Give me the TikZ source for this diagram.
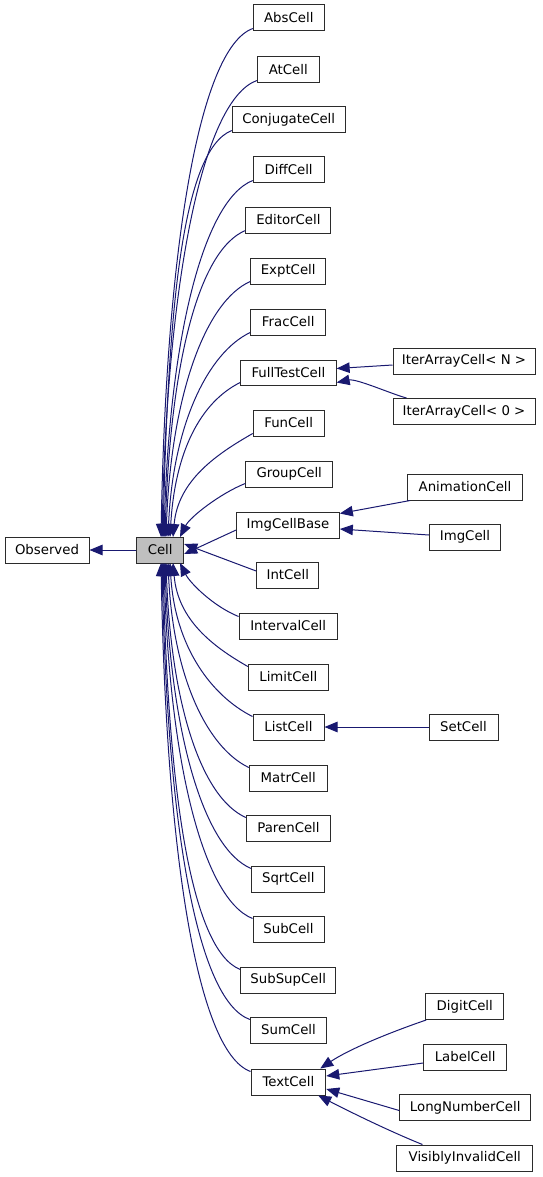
\documentclass[tikz,border=0pt]{standalone}
\usepackage{fontspec}
\setmainfont{DejaVu Sans}
\usetikzlibrary{arrows.meta}
\definecolor{edgeblue}{HTML}{191970}
\definecolor{boxline}{HTML}{2B2B2B}
\definecolor{cellgray}{HTML}{BFBFBF}
\tikzset{
  box/.style={draw=boxline, line width=1pt, fill=white, minimum height=26pt, inner sep=0pt, font=\fontsize{13.3}{15}\selectfont, text=black},
  edge/.style={draw=edgeblue, line width=1pt, -{Triangle[length=13pt,width=10.5pt]}},
}
\newcommand\upedge[4]{\draw[edge] ([yshift=3pt]#1.south west) .. controls +(#2,20) and +(5,-#4) .. (#3,537);}
\newcommand\downedge[4]{\draw[edge] ([yshift=-3pt]#1.north west) .. controls +(#2,-20) and +(5,#4) .. (#3,563);}
\begin{document}
\begin{tikzpicture}[x=1pt,y=-1pt]
\useasboundingbox (0,0) rectangle (543,1177);
% nodes
\node[box, minimum width=84pt] (observed) at (47,550) {Observed};
\node[box, minimum width=47pt, fill=cellgray] (cell) at (160.2,550) {Cell};
\node[box, minimum width=71pt] (abs) at (288.8,18) {AbsCell};
\node[box, minimum width=62pt] (at) at (288.3,70) {AtCell};
\node[box, minimum width=113pt] (conj) at (288.7,120) {ConjugateCell};
\node[box, minimum width=71pt] (diff) at (288.7,170) {DiffCell};
\node[box, minimum width=85pt] (editor) at (288.4,220) {EditorCell};
\node[box, minimum width=75pt] (expt) at (288.2,271) {ExptCell};
\node[box, minimum width=75pt] (frac) at (288.2,322) {FracCell};
\node[box, minimum width=95.5pt, minimum height=25pt] (fulltest) at (288.4,372.5) {FullTestCell};
\node[box, minimum width=71pt] (fun) at (288.7,423) {FunCell};
\node[box, minimum width=87pt] (group) at (289.2,474) {GroupCell};
\node[box, minimum width=102.7pt] (imgbase) at (288,525) {ImgCellBase};
\node[box, minimum width=62.3pt] (int) at (287.8,575) {IntCell};
\node[box, minimum width=98.3pt] (interval) at (288.2,626) {IntervalCell};
\node[box, minimum width=80pt] (limit) at (288.3,677) {LimitCell};
\node[box, minimum width=71pt] (list) at (288.5,727) {ListCell};
\node[box, minimum width=78pt] (matr) at (288.3,778) {MatrCell};
\node[box, minimum width=84.3pt] (paren) at (288.5,828) {ParenCell};
\node[box, minimum width=73.3pt] (sqrt) at (288.3,879) {SqrtCell};
\node[box, minimum width=71pt] (sub) at (288.5,929) {SubCell};
\node[box, minimum width=95pt] (subsup) at (288.2,980) {SubSupCell};
\node[box, minimum width=76.3pt] (sum) at (288.5,1030) {SumCell};
\node[box, minimum width=74.7pt] (text) at (288.4,1082) {TextCell};
\node[box, minimum width=142pt] (iterN) at (464,361) {IterArrayCell< N >};
\node[box, minimum width=142pt] (iter0) at (464,411.5) {IterArrayCell< 0 >};
\node[box, minimum width=114.7pt] (anim) at (465,487) {AnimationCell};
\node[box, minimum width=71.3pt] (img) at (465,537) {ImgCell};
\node[box, minimum width=69pt] (set) at (463.5,727) {SetCell};
\node[box, minimum width=78.3pt] (digit) at (464.8,1006.5) {DigitCell};
\node[box, minimum width=83pt] (label) at (465.2,1057) {LabelCell};
\node[box, minimum width=131pt] (longnum) at (465.2,1107.5) {LongNumberCell};
\node[box, minimum width=135.7pt] (visibly) at (464.8,1158) {VisiblyInvalidCell};
% edges to Cell
\draw[edge] (cell) -- (observed);
\upedge{abs}{-55}{161}{280}
\upedge{at}{-55}{162}{251}
\upedge{conj}{-50}{163}{224}
\upedge{diff}{-50}{164}{196}
\upedge{editor}{-48}{165}{169}
\upedge{expt}{-45}{166}{141}
\upedge{frac}{-42}{168}{113}
\upedge{fulltest}{-40}{170}{85}
\upedge{fun}{-35}{173}{57}
\draw[edge] ([yshift=4pt]group.south west) .. controls +(-25,10) and +(10,-20) .. (180,537);
\draw[edge] ([yshift=-5pt]imgbase.west) -- ([yshift=-4pt]cell.east);
\draw[edge] ([yshift=4pt]int.west) -- ([yshift=6pt]cell.east);
\draw[edge] ([yshift=-4pt]interval.north west) .. controls +(-25,-10) and +(10,20) .. (180,563);
\downedge{limit}{-35}{173}{57}
\downedge{list}{-40}{170}{85}
\downedge{matr}{-42}{168}{113}
\downedge{paren}{-45}{166}{140}
\downedge{sqrt}{-48}{165}{168}
\downedge{sub}{-50}{164}{196}
\downedge{subsup}{-50}{163}{224}
\downedge{sum}{-55}{162}{251}
\downedge{text}{-55}{161}{280}
% right column edges
\draw[edge] ([yshift=-4pt]iterN.west) -- ([yshift=4pt]fulltest.east);
\draw[edge] ([xshift=14pt]iter0.north west) .. controls +(-15,-4) and +(20,-4) .. ([yshift=-10pt]fulltest.east);
\draw[edge] ([xshift=3pt]anim.south west) -- ([yshift=-2pt]imgbase.north east);
\draw[edge] ([yshift=2pt]img.west) -- ([yshift=-4pt]imgbase.east);
\draw[edge] (set.west) -- (list.east);
\draw[edge] ([xshift=1pt]digit.south west) .. controls +(-35,12) and +(30,-20) .. ([xshift=-6pt]text.north east);
\draw[edge] ([yshift=-6pt]label.west) -- ([yshift=6pt]text.east);
\draw[edge] ([yshift=-3pt]longnum.west) -- ([yshift=-7pt]text.east);
\draw[edge] ([xshift=26pt]visibly.north west) .. controls +(-30,-12) and +(35,18) .. ([xshift=-8pt]text.south east);
\end{tikzpicture}
\end{document}
